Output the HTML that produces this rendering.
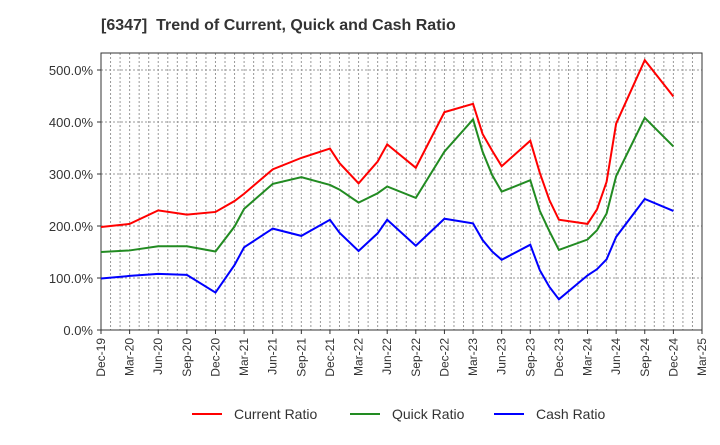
<!DOCTYPE html>
<html><head><meta charset="utf-8"><style>
body{margin:0;background:#fff;font-family:"Liberation Sans",sans-serif}
svg text{font-family:"Liberation Sans",sans-serif}
</style></head><body>
<svg id="c" width="720" height="440" viewBox="0 0 720 440">
<text x="101" y="30" font-size="16" font-weight="bold" fill="#333" style="white-space:pre" xml:space="preserve">[6347]  Trend of Current, Quick and Cash Ratio</text>
<g id="grid"></g><g id="axes"></g><g id="series"></g>
<g>
<g><line x1="192" y1="414" x2="222" y2="414" stroke="#f00" stroke-width="2"/><text x="234" y="419" font-size="14" fill="#333">Current Ratio</text></g>
<g><line x1="350" y1="414" x2="380" y2="414" stroke="#228b22" stroke-width="2"/><text x="392" y="419" font-size="14" fill="#333">Quick Ratio</text></g>
<g><line x1="494" y1="414" x2="524" y2="414" stroke="#00f" stroke-width="2"/><text x="536" y="419" font-size="14" fill="#333">Cash Ratio</text></g>
</g>
</svg>
<script>
const months=[0,3,6,9,12,14,15,18,21,24,25,27,29,30,33,36,39,40,41,42,45,46,47,48,51,52,53,54,57,60];
const currentRatio=[198,204,230,222,227,248,262,309,331,349,321,282,324,357,312,419,435,377,345,315,364,302,250,212,204,232,285,397,519,449];
const quickRatio=[150,153,161,161,151,199,233,281,294,279,270,245,263,276,254,343,405,343,298,266,288,229,190,154,174,192,224,296,408,353];
const cashRatio=[99,104,108,106,72,125,159,195,181,212,187,152,186,212,162,214,205,173,151,135,164,115,83,59,105,117,136,179,252,229];
const xLabels=["Dec-19","Mar-20","Jun-20","Sep-20","Dec-20","Mar-21","Jun-21","Sep-21","Dec-21","Mar-22","Jun-22","Sep-22","Dec-22","Mar-23","Jun-23","Sep-23","Dec-23","Mar-24","Jun-24","Sep-24","Dec-24","Mar-25"];
const yTicks=[0,100,200,300,400,500];
const L=101,R=702,T=53,B=330,NM=63;
const x=m=>L+m*(R-L)/NM, y=v=>B-v*0.52;
const NS='http://www.w3.org/2000/svg';
function mk(p,t,a){const e=document.createElementNS(NS,t);for(const k in a)e.setAttribute(k,a[k]);p.appendChild(e);return e;}
const g=document.getElementById('grid'),ax=document.getElementById('axes'),sg=document.getElementById('series');
for(let m=1;m<NM;m++){const l=mk(g,'line',{x1:x(m),x2:x(m),y1:T,y2:B,stroke:'#999','stroke-width':1,'stroke-dasharray':'2,2'});

}
yTicks.forEach(v=>{const l=mk(g,'line',{x1:L,x2:R,y1:y(v),y2:y(v),stroke:'#999','stroke-width':1,'stroke-dasharray':'2,2'});


mk(ax,'line',{x1:L-4,x2:L,y1:y(v),y2:y(v),stroke:'#333'});
const t=mk(ax,'text',{x:L-8,y:y(v)+5,'text-anchor':'end','font-size':13,fill:'#333'});t.textContent=v.toFixed(1)+'%';

});
const fr=mk(ax,'rect',{x:L,y:T,width:R-L,height:B-T,fill:'none',stroke:'#333','stroke-width':1});


xLabels.forEach((s,i)=>{const xx=x(i*3);mk(ax,'line',{x1:xx,x2:xx,y1:B,y2:B+4,stroke:'#333'});
const t=mk(ax,'text',{transform:`translate(${xx+4},${B+8}) rotate(-90)`,'text-anchor':'end','font-size':12,fill:'#333'});t.textContent=s;

});
[[currentRatio,'#f00','current-ratio-line'],[quickRatio,'#228b22','quick-ratio-line'],[cashRatio,'#00f','cash-ratio-line']].forEach(([d,c,n])=>{
const p=mk(sg,'polyline',{points:d.map((v,i)=>x(months[i])+','+y(v)).join(' '),fill:'none',stroke:c,'stroke-width':2});

});
</script>
</body></html>
